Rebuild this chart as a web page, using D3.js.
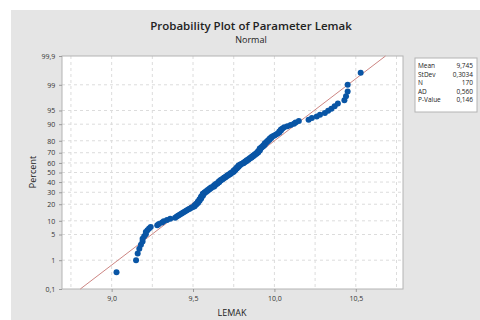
<!DOCTYPE html>
<html>
<head>
<meta charset="utf-8">
<title>Probability Plot of Parameter Lemak</title>
<script src="https://d3js.org/d3.v7.min.js"></script>
<style>
    body { margin: 0; background: #fff; }
    text { font-family: "Open Sans", "Noto Sans", sans-serif; }
</style>
</head>
<body>
<svg id="chart" width="480" height="320"></svg>
<script>
// sorted LEMAK values (n = 170)
var lemak = [
    9.03, 9.15, 9.16,
    9.17, 9.18, 9.19, 9.19, 9.20, 9.21, 9.21, 9.22, 9.23, 9.24,
    9.28, 9.29, 9.31, 9.32, 9.34, 9.36,
    9.39, 9.40, 9.41,
    9.42, 9.43, 9.44, 9.45, 9.46,
    9.47, 9.48, 9.49, 9.50,
    9.51, 9.51, 9.52, 9.52,
    9.53, 9.53, 9.53, 9.54, 9.54, 9.54, 9.55, 9.55, 9.55, 9.55, 9.56, 9.56, 9.56, 9.56,
    9.57, 9.57, 9.58, 9.58, 9.59, 9.59, 9.60, 9.60, 9.61, 9.61, 9.62,
    9.63, 9.63, 9.63, 9.64, 9.64, 9.65, 9.65, 9.66, 9.66, 9.66, 9.67, 9.67, 9.68, 9.68, 9.69,
    9.69, 9.70, 9.70, 9.71, 9.71, 9.72, 9.72, 9.73, 9.73, 9.74, 9.74, 9.75,
    9.75, 9.75, 9.76, 9.76, 9.76, 9.77, 9.77, 9.77, 9.78, 9.78, 9.78, 9.79,
    9.79, 9.80, 9.81, 9.81, 9.82, 9.82, 9.83, 9.83, 9.84, 9.84, 9.85,
    9.85, 9.86, 9.86, 9.87, 9.87, 9.88, 9.88, 9.89, 9.89,
    9.90, 9.90, 9.90, 9.91, 9.91, 9.91, 9.91,
    9.92, 9.92, 9.93, 9.93, 9.94, 9.94, 9.94,
    9.95, 9.95, 9.96, 9.96, 9.97, 9.97, 9.98, 9.98,
    9.99, 10.00, 10.01, 10.02, 10.03, 10.03,
    10.04, 10.04, 10.05,
    10.06, 10.08, 10.10,
    10.12, 10.13, 10.15,
    10.21, 10.23, 10.26, 10.28, 10.31, 10.33, 10.35, 10.37, 10.39,
    10.43, 10.44, 10.45, 10.45, 10.53
];

var fitMean = 9.745, fitSd = 0.3034;

var pctTicks = [0.1, 1, 5, 10, 20, 30, 40, 50, 60, 70, 80, 90, 95, 99, 99.9];
var pctLabels = ["0,1", "1", "5", "10", "20", "30", "40", "50", "60", "70", "80", "90", "95", "99", "99,9"];
var xTicks = [9.0, 9.5, 10.0, 10.5];
var xGrid = [8.75, 9.0, 9.25, 9.5, 9.75, 10.0, 10.25, 10.5, 10.75];

var statNames = ["Mean", "StDev", "N", "AD", "P-Value"];
var statValues = ["9,745", "0,3034", "170", "0,560", "0,146"];

// inverse standard normal (Acklam)
function qnorm(p) {
    var a = [-39.69683028665376, 220.9460984245205, -275.9285104469687, 138.3577518672690, -30.66479806614716, 2.506628277459239];
    var b = [-54.47609879822406, 161.5858368580409, -155.6989798598866, 66.80131188771972, -13.28068155288572];
    var c = [-0.007784894002430293, -0.3223964580411365, -2.400758277161838, -2.549732539343734, 4.374664141464968, 2.938163982698783];
    var d = [0.007784695709041462, 0.3224671290700398, 2.445134137142996, 3.754408661907416];
    var q, r;
    if (p < 0.02425) {
        q = Math.sqrt(-2 * Math.log(p));
        return (((((c[0]*q+c[1])*q+c[2])*q+c[3])*q+c[4])*q+c[5]) / ((((d[0]*q+d[1])*q+d[2])*q+d[3])*q+1);
    }
    if (p > 1 - 0.02425) {
        q = Math.sqrt(-2 * Math.log(1 - p));
        return -(((((c[0]*q+c[1])*q+c[2])*q+c[3])*q+c[4])*q+c[5]) / ((((d[0]*q+d[1])*q+d[2])*q+d[3])*q+1);
    }
    q = p - 0.5; r = q * q;
    return (((((a[0]*r+a[1])*r+a[2])*r+a[3])*r+a[4])*r+a[5])*q / (((((b[0]*r+b[1])*r+b[2])*r+b[3])*r+b[4])*r+1);
}

var n = lemak.length;
var pts = lemak.map((v, i) => ({ x: v, z: qnorm((i + 1 - 0.3) / (n + 0.4)) }));

var svg = d3.select("#chart");
var L = 62, R = 403, T = 56, B = 289;

svg.append("rect").attr("x", 11).attr("y", 10).attr("width", 469).attr("height", 310).attr("fill", "#e5e5e5");
svg.append("rect").attr("x", L).attr("y", T).attr("width", R - L).attr("height", B - T).attr("fill", "#fff");

var x = d3.scaleLinear([8.695, 10.79], [L, R]);
var y = d3.scaleLinear([qnorm(0.001), qnorm(0.999)], [B, T]);

// grid
svg.append("g").selectAll("line").data(xGrid).enter().append("line")
    .attr("x1", d => x(d)).attr("x2", d => x(d)).attr("y1", T).attr("y2", B)
    .attr("stroke", "#dcdcdc").attr("stroke-dasharray", "3,3");
svg.append("g").selectAll("line").data(pctTicks.slice(1, -1)).enter().append("line")
    .attr("x1", L).attr("x2", R).attr("y1", d => y(qnorm(d / 100))).attr("y2", d => y(qnorm(d / 100)))
    .attr("stroke", "#dcdcdc").attr("stroke-dasharray", "3,3");

svg.append("rect").attr("x", L).attr("y", T).attr("width", R - L).attr("height", B - T)
    .attr("fill", "none").attr("stroke", "#b4b4b4");

// axes
var xAxis = svg.append("g").attr("transform", "translate(0," + B + ")")
    .call(d3.axisBottom(x).tickValues(xTicks).tickSize(3).tickFormat(d => d3.format(".1f")(d).replace(".", ",")));
var yAxis = svg.append("g").attr("transform", "translate(" + L + ",0)")
    .call(d3.axisLeft(y).tickValues(pctTicks.map(p => qnorm(p / 100))).tickSize(3)
        .tickFormat((d, i) => pctLabels[i]));
[xAxis, yAxis].forEach(g => {
    g.select(".domain").remove();
    g.selectAll("line").attr("stroke", "#9a9a9a");
    g.selectAll("text").attr("fill", "#333").style("font-size", "7px");
});
xAxis.selectAll("text").attr("dy", "0.9em");
yAxis.selectAll("text").attr("dx", "-0.1em");

// fitted line
svg.append("line")
    .attr("x1", x(fitMean + fitSd * qnorm(0.001))).attr("y1", y(qnorm(0.001)))
    .attr("x2", x(fitMean + fitSd * qnorm(0.999))).attr("y2", y(qnorm(0.999)))
    .attr("stroke", "#cd8683").attr("stroke-width", 1);

// points
svg.append("g").selectAll("circle").data(pts).enter().append("circle")
    .attr("cx", d => x(d.x)).attr("cy", d => y(d.z)).attr("r", 3)
    .attr("fill", "#0955a5");

// titles
svg.append("text").attr("x", 251).attr("y", 30).attr("text-anchor", "middle")
    .style("font-size", "11.5px").style("font-weight", 600).attr("fill", "#222")
    .text("Probability Plot of Parameter Lemak");
svg.append("text").attr("x", 251).attr("y", 43).attr("text-anchor", "middle")
    .style("font-size", "9px").attr("fill", "#222").text("Normal");
svg.append("text").attr("x", 232).attr("y", 316).attr("text-anchor", "middle")
    .style("font-size", "9px").attr("fill", "#222").text("LEMAK");
svg.append("text").attr("transform", "translate(36,172) rotate(-90)").attr("text-anchor", "middle")
    .style("font-size", "9px").attr("fill", "#222").text("Percent");

// stats box
var box = svg.append("g").attr("transform", "translate(415,58)");
box.append("rect").attr("width", 62).attr("height", 54).attr("fill", "#fff").attr("stroke", "#b4b4b4");
box.selectAll(".nm").data(statNames).enter().append("text")
    .attr("x", 3).attr("y", (d, i) => 10 + i * 8.6)
    .style("font-size", "6.5px").attr("fill", "#222").text(d => d);
box.selectAll(".vl").data(statValues).enter().append("text")
    .attr("x", 58).attr("y", (d, i) => 10 + i * 8.6).attr("text-anchor", "end")
    .style("font-size", "6.5px").attr("fill", "#222").text(d => d);
</script>
</body>
</html>
